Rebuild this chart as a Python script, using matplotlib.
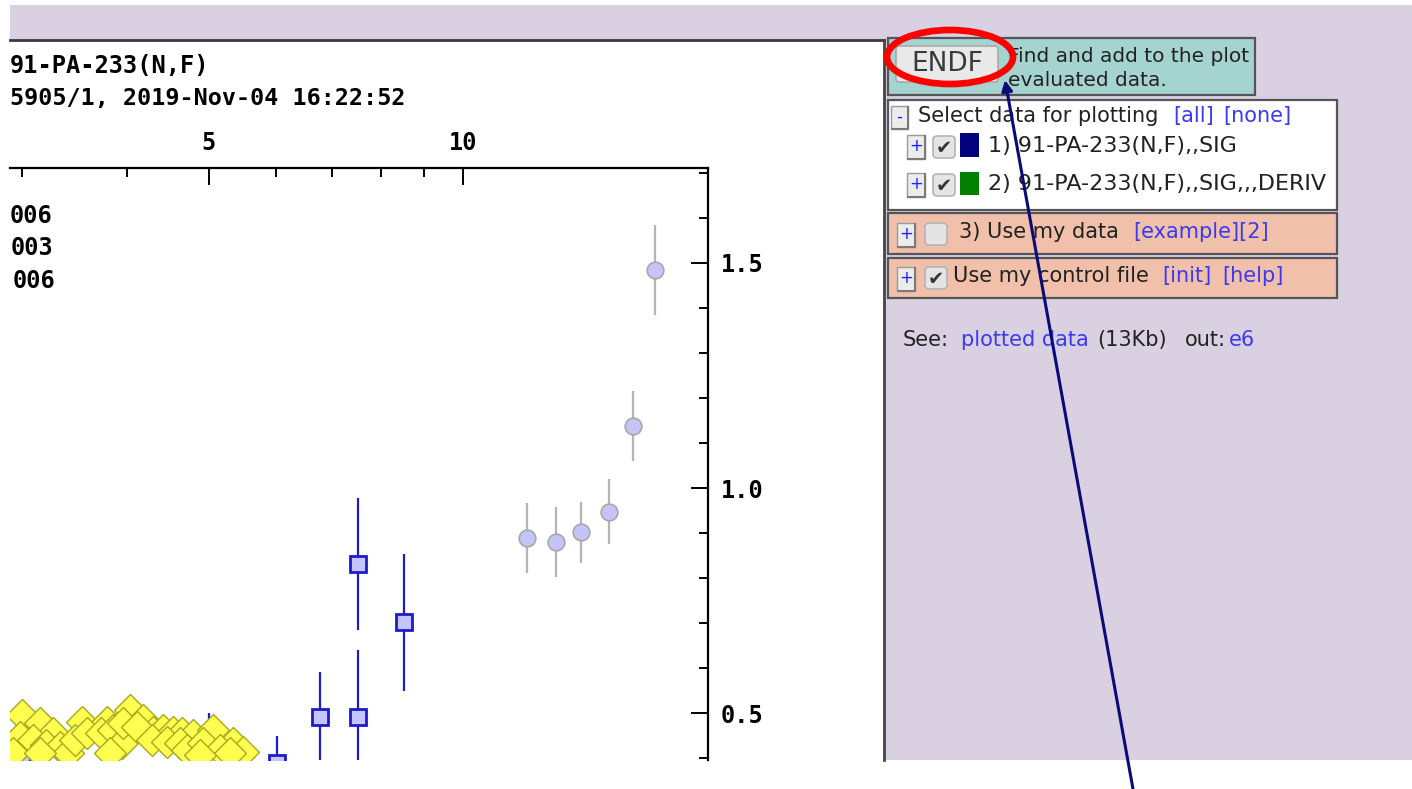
import numpy as np
import matplotlib
matplotlib.use("Agg")
import matplotlib.pyplot as plt
from matplotlib.patches import Rectangle, Ellipse, FancyBboxPatch
from matplotlib.ticker import NullFormatter

# ---- data (energy in MeV, cross section in b) ----
circ_x = [11.9, 12.9, 13.8, 14.9, 15.9, 16.9]
circ_y = [0.889, 0.880, 0.902, 0.947, 1.138, 1.484]
circ_e = [0.078, 0.077, 0.068, 0.072, 0.078, 0.100]

sq_x = [3.0, 5.0, 6.02, 6.77, 7.51, 7.51, 8.51]
sq_y = [0.39, 0.43, 0.39, 0.491, 0.491, 0.831, 0.702]
sq_e = [0.08, 0.07, 0.058, 0.10, 0.15, 0.147, 0.152]

dia_x = [3.00, 3.15, 3.27, 3.54, 3.79, 4.03, 4.18, 4.29, 4.41, 4.53, 4.64, 4.79,
         5.06, 5.34, 5.49, 2.99, 3.09, 3.21, 3.33, 3.40, 3.47, 3.59, 3.72, 3.85,
         3.94, 3.95, 4.11, 4.28, 4.46, 4.62, 4.71, 4.92, 5.15, 5.30, 2.93, 3.15,
         3.82, 4.88]
dia_y = [0.496, 0.478, 0.456, 0.480, 0.480, 0.507, 0.484, 0.458, 0.462, 0.458,
         0.456, 0.451, 0.462, 0.433, 0.413, 0.447, 0.440, 0.429, 0.424, 0.411,
         0.440, 0.456, 0.456, 0.462, 0.433, 0.478, 0.469, 0.440, 0.436, 0.433,
         0.418, 0.433, 0.418, 0.411, 0.411, 0.411, 0.411, 0.407]

xticks_major = [5, 10]
xticks_minor = [3, 4, 6, 7, 8, 9]
yticks_major = [0.5, 1.0, 1.5]
yticks_minor = [0.4, 0.6, 0.7, 0.8, 0.9, 1.1, 1.2, 1.3, 1.4, 1.6, 1.7]

W, H = 1412, 789
fig = plt.figure(figsize=(W / 100, H / 100), dpi=100, facecolor="white")

# page background, pixel coordinates (y down)
bg = fig.add_axes([0, 0, 1, 1], zorder=0)
bg.set_xlim(0, W)
bg.set_ylim(H, 0)
bg.axis("off")

lav = "#d9d0e1"
bg.add_patch(Rectangle((10, 5), W - 10, 755, fc=lav, ec="none"))
bg.add_patch(Rectangle((0, 40), 884, 720, fc="white", ec="none"))
bg.plot([10, 884], [40, 40], color="#3a3a3a", lw=2)
bg.plot([884, 884], [40, 760], color="#444444", lw=2)

mono = "DejaVu Sans Mono"
bg.text(10, 66, "91-PA-233(N,F)", fontsize=17, family=mono, weight="bold", va="center")
bg.text(10, 98, "5905/1, 2019-Nov-04 16:22:52", fontsize=16.8, family=mono,
        weight="bold", va="center")
for yy, xl, s in [(216, 10, "006"), (248, 11, "003"), (281, 13, "006")]:
    bg.text(xl, yy, s, fontsize=17, family=mono, weight="bold", va="center")

# ---- right-hand control panel ----
edge = "#555555"
blue = "#3a3af0"
dark = "#222222"
sans = "DejaVu Sans"
fs = 15

bg.add_patch(Rectangle((888, 38), 367, 57, fc="#a5d3d0", ec=edge, lw=1.6))
bg.add_patch(FancyBboxPatch((896, 46), 102, 36, boxstyle="round,pad=0,rounding_size=3",
                            fc="#e9e9e9", ec="#a9a9a9", lw=1.2))
bg.text(947, 64, "ENDF", fontsize=19, family=sans, color="#3a3a3a", ha="center", va="center")
bg.text(1008, 56, "Find and add to the plot", fontsize=14.5, family=sans, color=dark, va="center")
bg.text(1008, 80, "evaluated data.", fontsize=14.5, family=sans, color=dark, va="center")
bg.add_patch(Ellipse((950, 57), 126, 54, fill=False, ec="#ff0000", lw=4.8, zorder=5))

box = Rectangle((888, 100), 449, 110, fc="white", ec=edge, lw=1.6)
bg.add_patch(box)
bg.add_patch(Rectangle((888, 213), 449, 41, fc="#f0c0aa", ec=edge, lw=1.6))
bg.add_patch(Rectangle((888, 258), 449, 40, fc="#f0c0aa", ec=edge, lw=1.6))


def small_button(x, y, w, h, sym):
    bg.add_patch(Rectangle((x, y), w, h, fc="#ececec", ec="#9a9a9a", lw=1))
    bg.plot([x + 1, x + w, x + w], [y + h, y + h, y + 1], color="#7a7a7a", lw=1.5)
    bg.text(x + w / 2, y + h / 2 - 1, sym, fontsize=12, family=sans, color="#2020ff",
            ha="center", va="center")


def checkbox(x, y, checked):
    bg.add_patch(FancyBboxPatch((x, y), 22, 22, boxstyle="round,pad=0,rounding_size=4",
                                fc="#e4e4e4", ec="#b4b4b4", lw=1.2))
    if checked:
        bg.text(x + 11, y + 12, "\u2714", fontsize=14, family=sans, color="#333333",
                ha="center", va="center")


small_button(891, 106, 17, 23, "-")
bg.text(918, 116, "Select data for plotting", fontsize=fs, family=sans, color=dark, va="center")
bg.text(1173, 116, "[all]", fontsize=fs, family=sans, color=blue, va="center")
bg.text(1223, 116, "[none]", fontsize=fs, family=sans, color=blue, va="center")

small_button(907, 135, 18, 24, "+")
checkbox(933, 136, True)
bg.add_patch(Rectangle((960, 133), 19, 24, fc="#000080", ec="none"))
bg.text(988, 146, "1) 91-PA-233(N,F),,SIG", fontsize=16, family=sans, color=dark, va="center")

small_button(907, 173, 18, 24, "+")
checkbox(933, 174, True)
bg.add_patch(Rectangle((960, 172), 19, 23, fc="#008000", ec="none"))
t = bg.text(988, 184, "2) 91-PA-233(N,F),,SIG,,,DERIV", fontsize=16, family=sans,
            color=dark, va="center")
t.set_clip_path(box)

small_button(897, 223, 18, 24, "+")
checkbox(925, 223, False)
bg.text(959, 232, "3) Use my data", fontsize=fs, family=sans, color=dark, va="center")
bg.text(1133, 232, "[example][2]", fontsize=fs, family=sans, color=blue, va="center")

small_button(897, 267, 18, 24, "+")
checkbox(925, 267, True)
bg.text(953, 276, "Use my control file", fontsize=fs, family=sans, color=dark, va="center")
bg.text(1162, 276, "[init]", fontsize=fs, family=sans, color=blue, va="center")
bg.text(1222, 276, "[help]", fontsize=fs, family=sans, color=blue, va="center")

bg.text(903, 340, "See:", fontsize=fs, family=sans, color=dark, va="center")
bg.text(961, 340, "plotted data", fontsize=fs, family=sans, color=blue, va="center")
bg.text(1097, 340, "(13Kb)", fontsize=fs, family=sans, color=dark, va="center")
bg.text(1185, 340, "out:", fontsize=fs, family=sans, color=dark, va="center")
bg.text(1229, 340, "e6", fontsize=fs, family=sans, color=blue, va="center")

bg.annotate("", xy=(1005, 80), xytext=(1133, 789),
            arrowprops=dict(arrowstyle="-|>", color="#0b0b78", lw=2.2,
                            mutation_scale=16, shrinkA=0, shrinkB=0), zorder=6)

# ---- the plot itself (cropped in the screenshot, left edge hidden at x=10) ----
ax = fig.add_axes([10 / W, 1 - 760 / H, 698 / W, (760 - 168) / H], zorder=1)
ax.patch.set_alpha(0)
ax.set_xscale("log")
ax.set_xlim(2.906, 19.51)
ax.set_ylim(0.3956, 1.7111)

ax.errorbar(sq_x, sq_y, yerr=sq_e, fmt="s", ms=12, mfc="#c4c4ff", mec="#1c1cc8", mew=2,
            ecolor="#1c1cc8", elinewidth=1.6, capsize=0, zorder=2)
ax.plot(dia_x, dia_y, "D", ms=16, mfc="#ffff50", mec="#a8a820", mew=1, ls="none", zorder=3)
ax.errorbar(circ_x, circ_y, yerr=circ_e, fmt="o", ms=12, mfc="#c4c4f8", mec="#a8a8a8",
            mew=1.2, ecolor="#b4b4b4", elinewidth=1.6, capsize=0, zorder=2)

ax.spines["left"].set_visible(False)
ax.spines["bottom"].set_visible(False)
for s in ("top", "right"):
    ax.spines[s].set_linewidth(1.6)

ax.xaxis.tick_top()
ax.set_xticks(xticks_major, labels=[str(v) for v in xticks_major])
ax.set_xticks(xticks_minor, minor=True)
ax.xaxis.set_minor_formatter(NullFormatter())
ax.yaxis.tick_right()
ax.set_yticks(yticks_major, labels=["%.1f" % v for v in yticks_major])
ax.set_yticks(yticks_minor, minor=True)
ax.tick_params(which="both", direction="in", width=1.4)
ax.tick_params(which="major", length=12, pad=9)
ax.tick_params(which="minor", length=6.5)
for lab in ax.get_xticklabels() + ax.get_yticklabels():
    lab.set_fontfamily(mono)
    lab.set_fontweight("bold")
    lab.set_fontsize(17)

fig.savefig("out.png", dpi=100, facecolor="white")
